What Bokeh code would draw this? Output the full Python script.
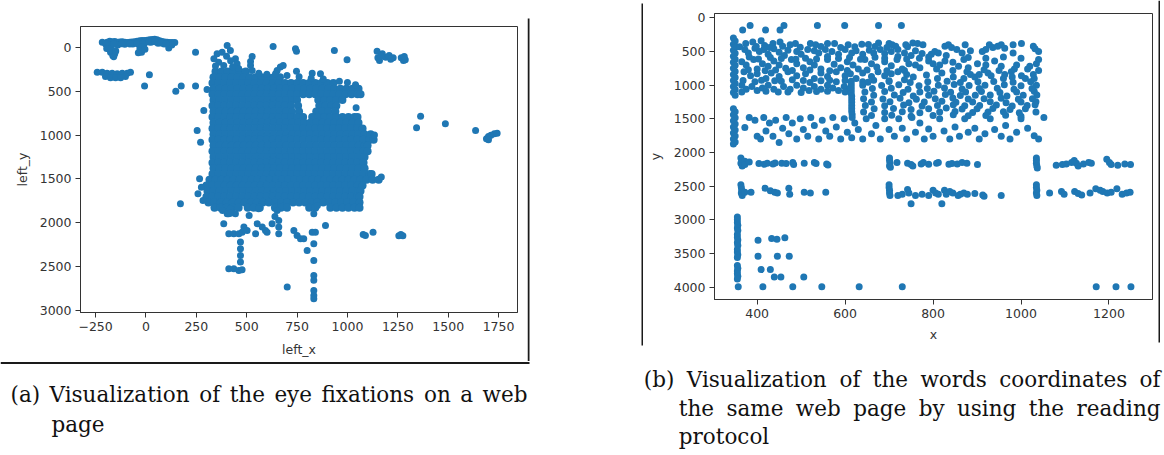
from bokeh.plotting import figure
from bokeh.layouts import row, column
from bokeh.models import Range1d, FixedTicker, Label
from bokeh.embed import file_html
from bokeh.resources import INLINE

BLUE = "#1f77b4"
INK = "#333333"
TEXT = "#111111"
RULE = "#1a1a1a"

# ---------------- tick values ----------------
LEFT_XTICKS = [-250, 0, 250, 500, 750, 1000, 1250, 1500, 1750]
LEFT_YTICKS = [0, 500, 1000, 1500, 2000, 2500, 3000]
RIGHT_XTICKS = [400, 600, 800, 1000, 1200]
RIGHT_YTICKS = [0, 500, 1000, 1500, 2000, 2500, 3000, 3500, 4000]

# ---------------- (a) eye fixations: left_x / left_y ----------------
LEFT_TOP_CLUSTER = [(-217,-61),(-193,-61),(-180,-72),(-168,-66),(-155,-68),(-143,-61),(-130,-64),(-118,-66),
    (-105,-61),(-93,-57),(-80,-61),(-69,-64),(-56,-66),(-44,-72),(-31,-76),(-19,-80),(-6,-80),(6,-84),(18,-88),
    (31,-92),(43,-95),(55,-88),(68,-76),(80,-68),(93,-64),(105,-61),(118,-57),(130,-57),(143,-57),(-185,-30),
    (-176,-8),(-185,15),(-176,53),(-165,91),(-155,72),(-165,34),(-140,-30),(-105,-38),(-65,-40),(-35,-34),
    (-30,15),(-22,53),(-38,60),(-10,-38),(113,7),(25,-60),(60,-50),(90,-40),(128,-30),(-160,105),
    (-200,-40),(-160,-40),(-120,-42),(-80,-40),(-45,-45),(-15,-50),(15,-62),(45,-66),(75,-52),(100,-42),
    (-195,10),(-150,40),(-20,-10),(-5,20)]
LEFT_SECOND_ROW = [(-242,282),(-217,282),(-193,293),(-168,293),(-143,301),(-118,293),(-93,293),(-77,282),
    (-201,331),(-176,346),(-151,346),(-126,346),(-102,331)]
LEFT_ARM = [(403,-23),(353,72),(378,53),(419,34),(444,129),(452,186),(337,129),(361,167),(386,205),(400,100),
    (420,150),(345,210),(430,220),(460,240),(527,103),(519,160),(519,205),(527,263)]
LEFT_ISOLATED = [(17,312),(-7,441),(148,499),(175,441),(246,441),(246,53),(303,480),(287,719),(254,948),
    (271,1081),(631,-12),(742,15),(747,42),(935,34),(998,141),(667,224),(681,205),(651,263),(643,301),
    (747,270),(825,293),(866,301),(1043,689)]
LEFT_TOP_RIGHT = [(1147,42),(1159,148),(1173,72),(1190,110),(1207,91),(1227,118),(1151,118),(1215,135),
    (1165,100),(1267,118),(1278,148),(1287,141),(1282,103)]
LEFT_FAR_RIGHT = [(1363,784),(1343,917),(1486,872),(1636,948),(1690,1043),(1700,1016),(1712,1001),
    (1729,986),(1743,978),(1700,1054)]
LEFT_EDGES = [(171,1785),(266,1500),(258,1671),(283,1747),(275,1595),(1134,1000),(1168,1480),(380,1861),
    (419,1842),(559,1842),(651,1861),(851,1804),(410,1900),(444,1900),(512,1919),(640,1930),
    (560,295),(600,305),(700,320),(760,335),(820,350),(880,360),(960,385),(1000,400),(1040,425)]
LEFT_LOWER = [(403,1899),(419,1892),(386,2013),(411,2128),(436,2128),(461,2128),(477,2109),(469,2223),
    (469,2299),(469,2375),(469,2451),(411,2527),(436,2527),(461,2546),(477,2539),(486,2051),(502,2089),
    (552,2013),(577,2051),(593,2089),(601,2109),(544,2128),(626,2013),(659,1975),(659,2051),(659,2128),
    (734,2089),(750,2147),(767,2185),(783,2185),(800,2318),(833,1899),(825,2109),(841,2109),(833,2242),
    (833,2432),(833,2603),(833,2660),(833,2775),(833,2832),(833,2870),(891,2032),(701,2737),(1078,2135),
    (1089,2147),(1127,2109),(1255,2150),(1265,2135),(1275,2150)]
# dense core of fixations: left_y level -> left_x values
LEFT_CORE = [
    (275, "345 375 405 435 465 495"),
    (340, "335 365 395 425 455 485 515 545 575 605 635 665"),
    (405, "330 360 390 420 450 480 510 540 570 600 630 660 690 720 750 780 810 840 870 900 930"),
    (470, "335 365 395 425 455 485 515 545 575 605 635 665 695 725 755 785 815 845 875 905 935 965 995 1025 1055"),
    (535, "330 360 390 420 450 480 510 540 570 600 630 660 690 720 750 780 810 840 870 900 930 960 990 1020 1050 1065"),
    (600, "335 365 395 425 455 485 515 545 575 605 635 665 695 725 750 855 885 915 945 975"),
    (665, "330 360 390 420 450 480 510 540 570 600 630 660 690 720 755 860 890 920 945"),
    (730, "335 365 395 425 455 485 515 545 575 605 635 665 695 725 760 845 875 905 940"),
    (795, "330 360 390 420 450 480 510 540 570 600 630 660 690 720 750 780 825 855 885 915 945 975 1005 1035 1050"),
    (860, "335 365 395 425 455 485 515 545 575 605 635 665 695 725 755 785 815 845 875 905 935 965 995 1025 1055"),
    (925, "330 360 390 420 450 480 510 540 570 600 630 660 690 720 750 780 810 840 870 900 930 960 990 1020 1050 1075"),
    (990, "335 365 395 425 455 485 515 545 575 605 635 665 695 725 755 785 815 845 875 905 935 965 995 1025 1055 1085 1115"),
    (1055, "330 360 390 420 450 480 510 540 570 600 630 660 690 720 750 780 810 840 870 900 930 960 990 1020 1050 1080 1110 1130"),
    (1120, "335 365 395 425 455 485 515 545 575 605 635 665 695 725 755 785 815 845 875 905 935 965 995 1025 1055 1085 1100"),
    (1185, "330 360 390 420 450 480 510 540 570 600 630 660 690 720 750 780 810 840 870 900 930 960 990 1020 1050 1080 1100"),
    (1250, "335 365 395 425 455 485 515 545 575 605 635 665 695 725 755 785 815 845 875 905 935 965 995 1025 1055 1085"),
    (1315, "330 360 390 420 450 480 510 540 570 600 630 660 690 720 750 780 810 840 870 900 930 960 990 1020 1050 1080"),
    (1380, "335 365 395 425 455 485 515 545 575 605 635 665 695 725 755 785 815 845 875 905 935 965 995 1025 1055 1085"),
    (1445, "330 360 390 420 450 480 510 540 570 600 630 660 690 720 750 780 810 840 870 900 930 960 990 1020 1050 1080 1110 1120"),
    (1510, "315 345 375 405 435 465 495 525 555 585 615 645 675 705 735 765 795 825 855 885 915 945 975 1005 1035 1065 1095 1125 1155"),
    (1575, "300 330 360 390 420 450 480 510 540 570 600 630 660 690 720 750 780 810 840 870 900 930 960 990 1020 1050 1075"),
    (1640, "305 335 365 395 425 455 485 515 545 575 605 635 665 695 725 755 785 815 845 875 905 935 965 995 1025 1055 1065"),
    (1705, "300 330 360 390 420 450 480 510 540 570 600 630 660 690 720 750 780 810 840 870 900 930 960 990 1020 1050 1060"),
    (1770, "310 340 370 400 430 460 490 520 550 580 610 640 670 700 730 760 790 820 850 880 910 940 970 1000 1030 1060"),
    (1830, "340 370 400 430 460 505 535 565 640 670 700 810 840 915 945 975 1005 1035 1060"),
]

# ---------------- (b) word coordinates: x / y ----------------
RIGHT_TOP = [(367,179),(384,114),(419,179),(452,179),(461,114),(537,114),(599,114),(676,114),(728,114)]
RIGHT_COLUMN = [(346,300),(350,345),(346,390),(350,435),(346,480),(350,525),(346,570),(350,615),(346,660),
    (350,705),(346,750),(350,795),(346,840),(350,885),(346,930),(350,975),(346,1020),(350,1065),(346,1110),
    (350,1150),(346,1350),(350,1395),(346,1440),(350,1485),(346,1530),(350,1575),(346,1620),(350,1665),
    (346,1710),(350,1755),(346,1800),(350,1845),(346,1875)]
RIGHT_UPPER = [(374,380),(390,360),(409,340),(417,410),(436,380),(452,360),(475,400),(487,380),(521,380),
    (533,400),(560,380),(576,380),(607,400),(638,390),(653,395),(676,375),(700,380),(707,400),(715,420),
    (372,470),(380,520),(395,450),(405,500),(415,470),(425,540),(438,460),(450,510),(462,560),(470,480),
    (490,500),(500,540),(515,470),(530,490),(540,520),(555,470),(570,500),(585,540),(600,470),(615,520),
    (625,490),(640,540),(655,480),(665,520),(680,470),(690,530),(705,500),(720,470),(735,520),(750,560),
    (760,490),(775,530),(382,580),(430,590),(510,600),(560,575),(610,590),(668,585),(720,575),
    (365,650),(375,700),(392,620),(400,760),(412,680),(425,720),(438,640),(450,700),(465,750),(478,620),
    (490,680),(505,740),(520,650),(530,700),(545,760),(560,620),(575,690),(590,740),(605,650),(618,700),
    (630,760),(645,620),(660,680),(672,730),(690,650),(705,710),(718,620),(730,760),(745,680),(760,700),
    (770,740),(370,800),(385,860),(400,830),(420,900),(432,820),(450,870),(470,800),(490,860),(510,830),
    (530,900),(545,820),(560,870),(580,800),(600,860),(612,830),(625,900),(640,820),(660,870),(675,800),
    (690,860),(705,830),(720,800),(740,840),(755,880),(395,950),(455,940),(520,960),(580,950),(640,950),
    (365,1000),(375,1060),(388,1020),(400,1080),(412,1040),(425,1000),(438,1060),(448,1100),(460,1020),
    (475,1060),(490,1000),(505,1040),(518,1080),(530,1020),(545,1060),(560,1000),(572,1040),(585,1080),
    (598,1020),(610,1050),
    (360,430),(398,425),(428,440),(458,420),(498,435),(545,425),(590,440),(622,430),(668,425),(695,440),
    (742,430),(403,610),(455,605),(488,615),(535,610),(585,605),(635,615),(690,600),(740,610),(380,770),
    (418,785),(442,775),(480,780),(520,775),(565,785),(605,780),(650,775),(695,785),(735,780),(368,930),
    (410,925),(440,935),(480,920),(505,930),(545,935),(565,925),(600,930),(665,925),(700,935),(735,920),
    (365,1100),(420,1090),(470,1100),(500,1110),(535,1095),(560,1090),(600,1100)]
RIGHT_UPPER_RIGHT = [(738,400),(754,375),(765,380),(777,400),(796,540),(804,500),(812,520),(827,420),
    (835,400),(842,440),(854,470),(866,520),(873,400),(885,490),(912,500),(920,470),(928,400),(936,440),
    (947,420),(955,400),(963,450),(982,400),(982,520),(1001,380),(1028,420),(1032,460),(1040,500),
    (769,600),(790,640),(800,680),(808,760),(827,640),(846,880),(858,720),(870,620),(877,800),(885,840),
    (901,680),(916,770),(932,860),(940,640),(955,720),(963,840),(978,800),(990,700),(1001,860),(1015,760),
    (1028,840),(1035,680),(785,850),(820,820),(845,780),(895,880),(925,820),(960,900),(1010,900),
    (790,580),(830,560),(880,590),(920,600),(960,580),(1000,600),(1040,620),(815,700),(845,660),(880,740),
    (920,700),(950,780),(985,760),(1020,720),(1040,780),(810,900),(870,900),(905,840),(980,880),(1030,900)]
RIGHT_MIDDLE = [(614,940),(614,985),(614,1030),(614,1075),(614,1120),(615,1165),(615,1210),(615,1255),
    (615,1300),(615,1345),(615,1390),(616,1435),(616,1480),
    (652,955),(700,945),(748,960),(788,950),(832,940),(862,960),(902,950),(938,945),(982,955),(1022,948),
    (640,1000),(683,1005),(722,995),(768,1010),(812,1000),(848,990),(882,1005),(918,1000),(962,995),
    (1000,1010),(1035,1000),(662,1050),(705,1045),(743,1060),(787,1050),(826,1040),(866,1055),(905,1050),
    (946,1045),(984,1060),(1025,1050),(645,1100),(690,1095),(732,1110),(770,1100),(802,1090),(840,1105),
    (874,1100),(910,1095),(952,1110),(990,1100),(1030,1090),(665,1150),(712,1145),(755,1160),(790,1150),
    (828,1140),(862,1155),(896,1150),(930,1145),(968,1160),(1005,1150),(1036,1145),(642,1200),(686,1205),
    (725,1195),(762,1210),(805,1200),(845,1190),(880,1205),(916,1200),(955,1195),(994,1210),(1026,1200),
    (660,1250),(702,1245),(745,1260),(780,1250),(820,1240),(852,1255),(890,1250),(930,1245),(966,1260),
    (1000,1250),(1034,1245),(646,1300),(690,1305),(733,1295),(775,1310),(810,1300),(846,1290),(872,1305),
    (906,1300),(944,1295),(980,1310),(1014,1300),(1032,1290),(666,1350),(710,1345),(750,1360),(790,1350),
    (830,1340),(866,1355),(900,1350),(936,1345),(975,1360),(1010,1350),(642,1400),(690,1405),(730,1395),
    (770,1410),(815,1400),(850,1390),(890,1405),(925,1400),(960,1395),(996,1410),(1034,1400),(660,1450),
    (706,1445),(750,1460),(800,1450),(846,1440),(880,1455),(920,1450),(965,1445),(1000,1460),(1052,1479)]
RIGHT_BAND = [(372,1630),(382,1480),(395,1520),(400,1760),(408,1800),(415,1480),(420,1680),(428,1560),
    (436,1760),(442,1520),(450,1850),(458,1640),(466,1480),(472,1720),(480,1560),(490,1800),(498,1500),
    (505,1660),(515,1760),(522,1480),(530,1600),(540,1800),(548,1520),(556,1680),(565,1760),(572,1480),
    (580,1620),(590,1800),(598,1500),(605,1700),(615,1780),(622,1560),(630,1660),(640,1800),(648,1500),
    (660,1720),(670,1600),(680,1800),(690,1500),(700,1660),(712,1760),(722,1500),(730,1640),(740,1800),
    (752,1480),(760,1700),(770,1560),(780,1800),(790,1650),(800,1760),(815,1500),(825,1680),(838,1800),
    (850,1620),(860,1760),(872,1500),(880,1700),(895,1640),(905,1800),(918,1720),(930,1500),(940,1660),
    (955,1760),(965,1600),(975,1800),(990,1700),(1000,1500),(1015,1640),(1030,1750),(1040,1800)]
RIGHT_ROW_2150 = [(363,2080),(365,2120),(363,2160),(366,2200),(372,2130),(372,2180),(382,2140),(404,2165),
    (416,2175),(423,2160),(436,2170),(441,2155),(456,2160),(466,2165),(481,2150),(483,2180),(507,2160),
    (530,2150),(534,2165),(558,2170),(561,2185),
    (701,2080),(701,2120),(702,2160),(701,2200),(703,2220),(718,2150),(742,2160),(750,2180),(754,2200),
    (773,2170),(778,2150),(790,2175),(808,2160),(812,2150),(836,2175),(843,2165),(855,2170),(866,2150),
    (877,2160),(901,2180),
    (1035,2080),(1035,2120),(1035,2160),(1036,2200),(1037,2230),(1080,2190),(1094,2180),(1103,2170),
    (1115,2150),(1121,2120),(1126,2160),(1130,2200),(1142,2170),(1154,2150),(1160,2160),(1195,2100),
    (1201,2150),(1205,2180),(1220,2190),(1236,2170),(1249,2180)]
RIGHT_ROW_2600 = [(363,2480),(364,2520),(365,2560),(364,2600),(366,2640),(372,2590),(386,2590),(418,2530),
    (430,2570),(440,2590),(446,2600),(472,2530),(474,2620),(507,2590),(521,2600),(556,2590),
    (700,2480),(700,2520),(701,2560),(701,2600),(702,2640),(720,2640),(730,2620),(742,2550),(745,2600),
    (750,2760),(760,2640),(775,2620),(790,2640),(800,2560),(806,2600),(812,2620),(820,2760),(826,2560),
    (830,2620),(838,2580),(845,2600),(857,2640),(862,2620),(870,2600),(878,2620),(895,2610),(913,2630),
    (916,2650),(955,2640),
    (1035,2480),(1035,2520),(1036,2560),(1035,2600),(1036,2640),(1065,2600),(1092,2580),(1098,2620),
    (1122,2580),(1130,2610),(1138,2630),(1157,2600),(1170,2540),(1180,2560),(1186,2580),(1196,2600),
    (1205,2590),(1218,2540),(1230,2620),(1240,2600),(1248,2590)]
RIGHT_LOWER = [(355,2960),(355,3000),(355,3040),(356,3080),(355,3120),(356,3160),(355,3220),(355,3260),
    (356,3300),(355,3340),(356,3380),(355,3440),(355,3480),(356,3520),(355,3560),(355,3680),(356,3720),
    (355,3760),(355,3800),(356,3840),(355,3880),(402,3305),(433,3276),(445,3290),(463,3266),(402,3540),
    (446,3540),(473,3540),(409,3740),(430,3740),(439,3850),(454,3850),(506,3850)]
RIGHT_BOTTOM = [(357,3995),(413,3995),(481,3995),(547,3995),(632,3995),(730,3995),(1171,3995),
    (1216,3995),(1250,3995)]

CAPTION_A = ["(a) Visualization of the eye fixations on a web", "page"]
CAPTION_B = ["(b) Visualization of the words coordinates of", "the same web page by using the reading",
             "protocol"]

# approximate DejaVu Serif advance widths (em), used only to justify caption lines
ADV = {" ": 0.318, "(": 0.390, ")": 0.390, "a": 0.596, "b": 0.640, "c": 0.560, "d": 0.640, "e": 0.592,
       "f": 0.370, "g": 0.640, "h": 0.644, "i": 0.320, "l": 0.320, "m": 0.948, "n": 0.644, "o": 0.602,
       "p": 0.640, "r": 0.478, "s": 0.513, "t": 0.402, "u": 0.644, "w": 0.856, "x": 0.564, "y": 0.565,
       "z": 0.525, "V": 0.722}
CAP_SIZE = 21.5


def unzip(*groups):
    xs, ys = [], []
    for g in groups:
        for x, y in g:
            xs.append(x)
            ys.append(y)
    return xs, ys


def make_fig(xr, yr, w, h, bl, br, bt, bb, xticks, yticks, xlabel, ylabel, xso, yso):
    p = figure(x_range=Range1d(*xr), y_range=Range1d(*yr), width=w, height=h, title=None,
               min_border_left=bl, min_border_right=br, min_border_top=bt, min_border_bottom=bb,
               output_backend="svg", toolbar_location=None, tools="")
    p.grid.grid_line_color = None
    p.outline_line_color = INK
    p.outline_line_width = 1
    p.background_fill_color = "white"
    p.border_fill_color = "white"
    for ax, ticks, label, so in ((p.below[0], xticks, xlabel, xso), (p.left[0], yticks, ylabel, yso)):
        ax.ticker = FixedTicker(ticks=ticks)
        ax.major_label_overrides = {t: ("\u2212" + str(-t)) for t in ticks if t < 0}
        ax.axis_label = label
        ax.axis_label_text_font = "DejaVu Sans"
        ax.axis_label_text_font_size = "12.5px"
        ax.axis_label_text_font_style = "normal"
        ax.axis_label_text_color = INK
        ax.axis_label_standoff = so
        ax.major_label_text_font = "DejaVu Sans"
        ax.major_label_text_font_size = "12.5px"
        ax.major_label_text_color = INK
        ax.major_label_standoff = 4
        ax.major_tick_out = 5
        ax.major_tick_in = 0
        ax.major_tick_line_color = INK
        ax.minor_tick_line_color = None
        ax.axis_line_color = INK
    return p


def canvas(x0, x1, y0, y1):
    """A bare figure whose frame is the whole canvas, in page pixels (y downward)."""
    c = figure(x_range=Range1d(x0, x1), y_range=Range1d(y1, y0), width=int(x1 - x0), height=int(y1 - y0),
               title=None, min_border=0, x_axis_type=None, y_axis_type=None,
               output_backend="svg", toolbar_location=None, tools="")
    c.grid.grid_line_color = None
    c.outline_line_color = None
    c.background_fill_color = "white"
    c.border_fill_color = "white"
    return c


# ---- row 1: charts and the rules between them (page y 0..361) ----
pa = make_fig((-325, 1844), (3027, -240), 527, 361, 80, 10, 26, 49,
              LEFT_XTICKS, LEFT_YTICKS, "left_x", "left_y", 8, 7)
core_x = [int(v) for y, row_s in LEFT_CORE for v in row_s.split()]
core_y = [y for y, row_s in LEFT_CORE for v in row_s.split()]
pa.scatter(core_x, core_y, size=8, fill_color=BLUE, line_color=None)
ax_, ay_ = unzip(LEFT_TOP_CLUSTER, LEFT_SECOND_ROW, LEFT_ARM, LEFT_ISOLATED, LEFT_TOP_RIGHT,
                 LEFT_FAR_RIGHT, LEFT_EDGES, LEFT_LOWER)
pa.scatter(ax_, ay_, size=7, fill_color=BLUE, line_color=None)

pb = make_fig((303, 1299), (4184, -65), 513, 361, 71, 4, 13, 62,
              RIGHT_XTICKS, RIGHT_YTICKS, "x", "y", 6, 8)
bx, by = unzip(RIGHT_TOP, RIGHT_COLUMN, RIGHT_UPPER, RIGHT_UPPER_RIGHT, RIGHT_MIDDLE, RIGHT_BAND,
               RIGHT_ROW_2150, RIGHT_ROW_2600, RIGHT_LOWER, RIGHT_BOTTOM)
pb.scatter(bx, by, size=7, fill_color=BLUE, line_color=None)

gap = canvas(527, 643, 0, 361)
gap.quad(left=[527], right=[529], top=[18], bottom=[361], fill_color=RULE, line_color=None)
gap.quad(left=[641], right=[643], top=[3], bottom=[345], fill_color=RULE, line_color=None)

edge = canvas(1156, 1164, 0, 361)
edge.quad(left=[1158], right=[1159.5], top=[0], bottom=[342], fill_color=RULE, line_color=None)

# ---- row 2: captions (page y 361..455) ----
caps = canvas(0, 1164, 361, 455)
caps.quad(left=[0], right=[529], top=[361.5], bottom=[363.5], fill_color=RULE, line_color=None)


def put(text, x, y, align="left"):
    caps.add_layout(Label(x=x, y=y, text=text, text_font="DejaVu Serif", text_font_size=f"{CAP_SIZE}px",
                          text_color=TEXT, text_align=align, text_baseline="alphabetic"))


def justified(line, x0, x1, y):
    words = line.split(" ")
    widths = [sum(ADV.get(ch, 0.55) for ch in w) * CAP_SIZE for w in words]
    space = (x1 - x0 - sum(widths)) / (len(words) - 1)
    x = x0
    for i, (w, wd) in enumerate(zip(words, widths)):
        if i == len(words) - 1:
            put(w, x1, y, "right")
        else:
            put(w, x, y)
        x += wd + space


justified(CAPTION_A[0], 10, 527, 394)
put(CAPTION_A[1], 51, 424)
justified(CAPTION_B[0], 643.3, 1160, 379)
justified(CAPTION_B[1], 678.3, 1160, 407.5)
put(CAPTION_B[2], 678.3, 436)

layout = column(row(column(pa), column(gap), column(pb), column(edge)), caps)
open("out.html", "w").write(file_html(layout, INLINE))
